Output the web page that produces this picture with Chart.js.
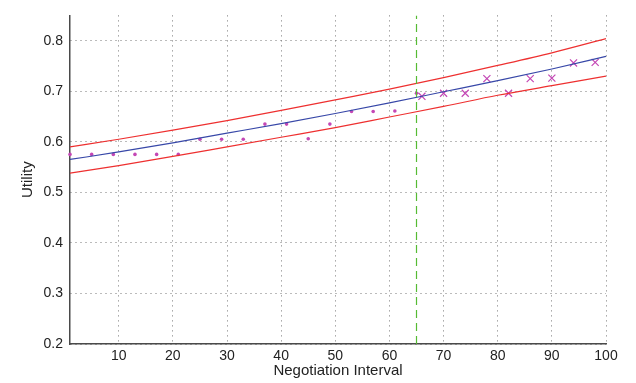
<!DOCTYPE html>
<html>
<head>
<meta charset="utf-8">
<script src="https://cdn.jsdelivr.net/npm/chart.js@4/dist/chart.umd.min.js"></script>
<style>
    html, body { margin: 0; padding: 0; background: #fff; }
    #wrap { width: 636px; height: 383px; position: relative; }
</style>
</head>
<body>
<div id="wrap"><canvas id="chart"></canvas></div>
<script>
    // observed utilities (dots before the split, crosses after it)
    const dotX = [1, 5, 9, 13, 17, 21, 25, 29, 33, 37, 41, 45, 49, 53, 57, 61, 65];
    const dotY = [0.575, 0.575, 0.575, 0.575, 0.575, 0.575, 0.605, 0.605, 0.605, 0.635, 0.635, 0.606, 0.635, 0.66, 0.66, 0.661, 0.696];
    const crossX = [66, 70, 74, 78, 82, 86, 90, 94, 98];
    const crossY = [0.69, 0.696, 0.696, 0.725, 0.696, 0.725, 0.726, 0.756, 0.757];

    // fitted curve and its bounds, read at the tick positions
    const fitX = [1, 10, 20, 30, 40, 50, 60, 70, 80, 90, 100];
    const fitY = [0.565, 0.580, 0.598, 0.617, 0.636, 0.656, 0.677, 0.699, 0.721, 0.744, 0.769];
    const upperY = [0.590, 0.605, 0.623, 0.642, 0.662, 0.683, 0.704, 0.727, 0.751, 0.776, 0.804];
    const lowerY = [0.538, 0.553, 0.571, 0.590, 0.609, 0.628, 0.649, 0.670, 0.692, 0.711, 0.730];

    const splitX = 65;
    const xRange = [1, 100];
    const yRange = [0.2, 0.85];
    const xTicks = [10, 20, 30, 40, 50, 60, 70, 80, 90, 100];
    const yTicks = [0.2, 0.3, 0.4, 0.5, 0.6, 0.7, 0.8];

    const tickFont = { family: 'Liberation Sans, Arial, sans-serif', size: 14 };
    const titleFont = { family: 'Liberation Sans, Arial, sans-serif', size: 15 };
    const gridColor = '#777';
    const axisColor = '#4a4a4a';
    const markColor = '#c447b5';

    function pairs(xs, ys) {
        return xs.map(function (x, i) {
            return { x: x, y: ys[i] };
        });
    }

    function curve(ys, color) {
        return {
            type: 'line',
            data: pairs(fitX, ys),
            borderColor: color,
            borderWidth: 1.2,
            pointRadius: 0,
            cubicInterpolationMode: 'monotone',
            fill: false
        };
    }

    // small inward tick marks on both axes, like the original plot
    const innerTicks = {
        id: 'innerTicks',
        afterDraw: function (chart) {
            const ctx = chart.ctx;
            const xs = chart.scales.x;
            const ys = chart.scales.y;
            ctx.save();
            ctx.strokeStyle = axisColor;
            ctx.lineWidth = 1;
            ctx.beginPath();
            xTicks.forEach(function (v) {
                const px = Math.round(xs.getPixelForValue(v)) + 0.5;
                ctx.moveTo(px, ys.bottom);
                ctx.lineTo(px, ys.bottom - 5);
            });
            yTicks.forEach(function (v) {
                const py = Math.round(ys.getPixelForValue(v)) + 0.5;
                ctx.moveTo(xs.left, py);
                ctx.lineTo(xs.left + 5, py);
            });
            ctx.stroke();
            ctx.restore();
        }
    };

    new Chart(document.getElementById('chart').getContext('2d'), {
        type: 'scatter',
        data: {
            datasets: [
                {
                    type: 'line',
                    data: [{ x: splitX, y: yRange[0] }, { x: splitX, y: yRange[1] }],
                    borderColor: '#55bb33',
                    borderWidth: 1.2,
                    borderDash: [8, 5],
                    pointRadius: 0,
                    fill: false
                },
                curve(upperY, '#ee3030'),
                curve(lowerY, '#ee3030'),
                curve(fitY, '#3848a8'),
                {
                    data: pairs(dotX, dotY),
                    pointStyle: 'circle',
                    pointRadius: 1.8,
                    backgroundColor: markColor,
                    borderColor: markColor,
                    borderWidth: 0,
                    clip: false
                },
                {
                    data: pairs(crossX, crossY),
                    pointStyle: 'crossRot',
                    pointRadius: 5,
                    borderColor: markColor,
                    borderWidth: 1.2,
                    clip: false
                }
            ]
        },
        options: {
            responsive: true,
            maintainAspectRatio: false,
            animation: false,
            events: [],
            layout: { padding: { left: 15, right: 30, top: 3, bottom: 0 } },
            plugins: {
                legend: { display: false },
                tooltip: { enabled: false }
            },
            scales: {
                x: {
                    type: 'linear',
                    min: xRange[0],
                    max: xRange[1],
                    afterBuildTicks: function (scale) {
                        scale.ticks = xTicks.map(function (v) { return { value: v }; });
                    },
                    afterFit: function (scale) { scale.height = 39; },
                    ticks: { color: '#222', font: tickFont, padding: 4, maxRotation: 0 },
                    grid: { color: gridColor, drawTicks: false, lineWidth: 1 },
                    border: { color: axisColor, width: 1.5, dash: [1, 4] },
                    title: { display: true, text: 'Negotiation Interval', color: '#222', font: titleFont, padding: { top: 0, bottom: 3 } }
                },
                y: {
                    type: 'linear',
                    min: yRange[0],
                    max: yRange[1],
                    afterBuildTicks: function (scale) {
                        scale.ticks = yTicks.map(function (v) { return { value: v }; });
                    },
                    afterFit: function (scale) { scale.width = 55; },
                    ticks: {
                        color: '#222',
                        font: tickFont,
                        padding: 7,
                        callback: function (v) { return v.toFixed(1); }
                    },
                    grid: { color: gridColor, drawTicks: false, lineWidth: 1 },
                    border: { color: axisColor, width: 1.5, dash: [1, 4] },
                    title: { display: true, text: 'Utility', color: '#222', font: titleFont, padding: { top: 4, bottom: 0 } }
                }
            }
        }
    },
    );
</script>
</body>
</html>
